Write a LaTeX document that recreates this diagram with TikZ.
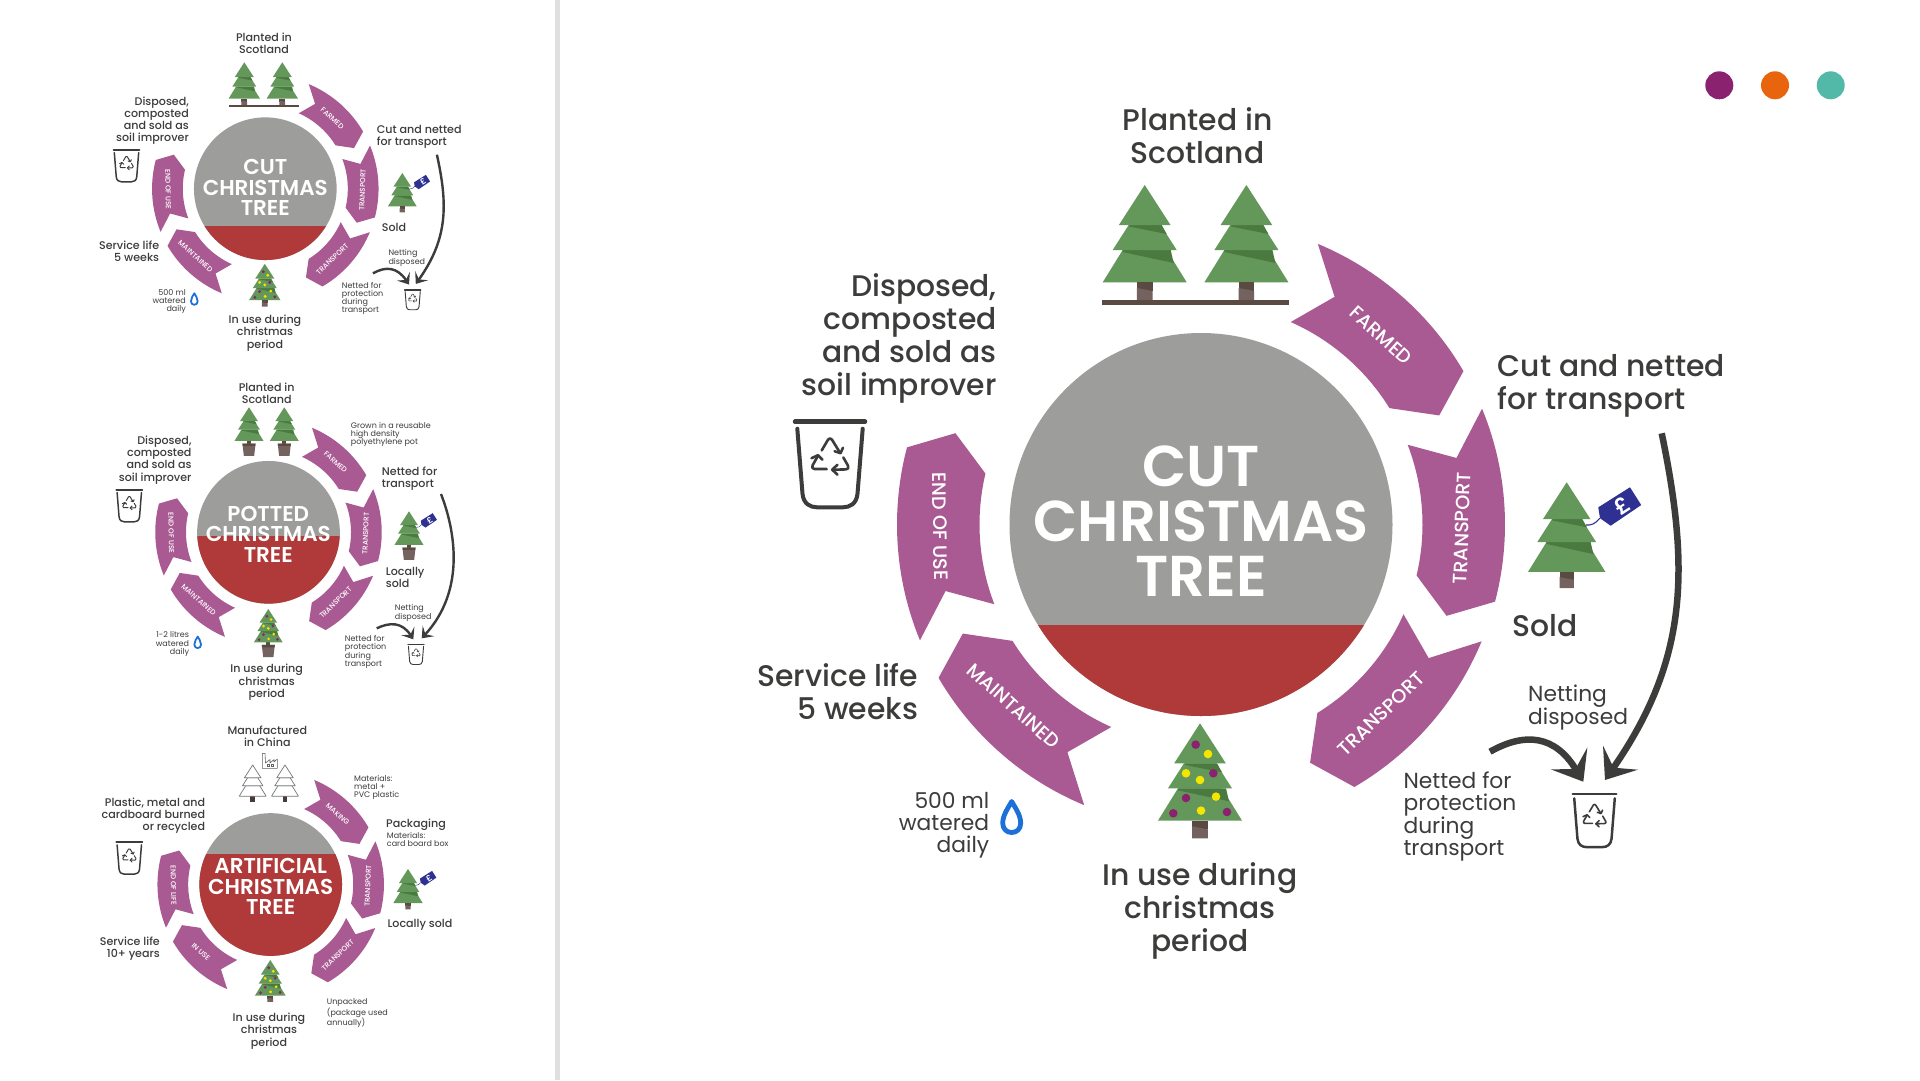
\documentclass[tikz,border=0pt]{standalone}
\usepackage{fontspec}
\usetikzlibrary{arrows.meta}
\setmainfont{Poppins}
\newfontfamily\medfont{Poppins Medium}
\newfontfamily\boldfnt{Poppins SemiBold}
\definecolor{ink}{HTML}{3C3C3B}
\definecolor{plum}{HTML}{A95A93}
\definecolor{discgrey}{HTML}{9D9D9C}
\definecolor{discred}{HTML}{B03A3A}
\definecolor{pinelight}{HTML}{64975A}
\definecolor{pinedark}{HTML}{4A7A3F}
\definecolor{barkdark}{HTML}{5A4A42}
\definecolor{barklight}{HTML}{73625E}
\definecolor{tagblue}{HTML}{2E3192}
\definecolor{dropblue}{HTML}{1D70D8}
\definecolor{ballplum}{HTML}{8B2270}
\definecolor{ballyellow}{HTML}{F5E600}
\definecolor{dotorange}{HTML}{E8650E}
\definecolor{dotteal}{HTML}{52B9A9}
\definecolor{rulegrey}{HTML}{E0E0E0}
\tikzset{
  bigtxt/.style={font=\medfont\fontsize{29.8}{33}\selectfont,text=ink,inner sep=0pt},
  midtxt/.style={font=\fontsize{21.8}{22}\selectfont,text=ink,inner sep=0pt},
  pnltxt/.style={font=\medfont\fontsize{11.1}{12.2}\selectfont,text=ink,inner sep=0pt},
  pnlsmall/.style={font=\fontsize{8}{8.2}\selectfont,text=ink,inner sep=0pt},
  disctxtbig/.style={font=\boldfnt\fontsize{57.6}{55}\selectfont,text=white,inner sep=0pt,align=center},
  disctxt/.style={font=\boldfnt\fontsize{21.5}{20.6}\selectfont,text=white,inner sep=0pt,align=center},
  arrowtxt/.style={font=\medfont\fontsize{19.3}{19}\selectfont,text=white,inner sep=0pt,transform shape},
  flowbig/.style={draw=ink,line width=6.5pt,-{Stealth[length=27pt,width=42pt,inset=12pt]}},
  flowsmall/.style={draw=ink,line width=2.4pt,-{Stealth[length=10pt,width=15.6pt,inset=4.5pt]}},
}
% one wheel segment: name, cx, cy, scale, rotation, label angle, text rotation, label
\newcommand{\wheelarrow}[8]{%
  \begin{scope}[shift={(#2,#3)},scale=#4]
    \pgfmathsetmacro\angA{67.4+#5}\pgfmathsetmacro\angB{30.3+#5}
    \pgfmathsetmacro\angC{24.6+#5}\pgfmathsetmacro\angD{31.7+#5}
    \pgfmathsetmacro\angE{66.1+#5}\pgfmathsetmacro\angF{59.6+#5}
    \fill[plum] plot[domain=\angA:\angB,samples=30] ({304*cos(\x)},{-304*sin(\x)})
      -- ({262*cos(\angC)},{-262*sin(\angC)})
      -- plot[domain=\angD:\angE,samples=30] ({221.5*cos(\x)},{-221.5*sin(\x)})
      -- ({264*cos(\angF)},{-264*sin(\angF)}) -- cycle;
    \node[arrowtxt,rotate=#7] (#1) at ({261*cos(#6)},{-261*sin(#6)}) {#8};
  \end{scope}}
% central disc: cx, cy, scale, chord position (fraction of the radius)
\newcommand{\twotonedisc}[4]{%
  \begin{scope}[shift={(#1,#2)},scale=#3]
    \fill[discgrey] (0,0) circle[radius=191.5];
    \begin{scope}
      \clip (0,0) circle[radius=191.5];
      \fill[discred] (-200,{#4*191.5}) rectangle (200,200);
    \end{scope}
  \end{scope}}
\newcommand{\pinebody}{%
    \fill[pinelight] (-22,65) -- (22,65) -- (42,97.3) -- (-42,97.3) -- cycle;
    \fill[pinedark] (-22,65) -- (26,65) -- (29,78) -- (-22,67) -- cycle;
    \fill[pinelight] (-16,40) -- (16,40) -- (32,65) -- (-32,65) -- cycle;
    \fill[pinedark] (-15.5,40) -- (17,40) -- (22,49) -- (-15.5,41.5) -- cycle;
    \fill[pinelight] (0,0) -- (25.8,40) -- (-25.8,40) -- cycle;}
\newcommand{\pinetrunk}{%
    \fill[barkdark] (-7.8,97.3) rectangle (7.8,106);
    \fill[barklight] (-7.8,103) -- (7.8,106) -- (7.8,115) -- (-7.8,115) -- cycle;}
\newcommand{\pinepot}{%
    \fill[barkdark] (-6,97.3) rectangle (6,107);
    \fill[barklight] (-19,105) -- (19,105) -- (15,141) -- (-15,141) -- cycle;
    \fill[barkdark] (-19,105) -- (19,105) -- (18.2,112) -- (-18.2,112) -- cycle;}
\newcommand{\baubles}{%
    \foreach \bx/\by in {-4.3/21.3,13.3/50,-14/74.7,-26.7/90,27/88.7}
      \fill[ballplum] (\bx,\by) circle[radius=4.3];
    \foreach \bx/\by in {8/30.7,-14/50,0/56.7,16/73.3,1/87.3}
      \fill[ballyellow] (\bx,\by) circle[radius=4.3];}
\newcommand{\pricetag}[1]{%
    \draw[tagblue,line width=#1*1.2pt] (36,39) .. controls (31,45) and (27,47) .. (21,46.4);
    \fill[tagblue] (34.3,27.2) -- (68.8,5.4) -- (81,24.7) -- (47.8,47.2) -- (36.2,39) -- cycle;
    \node[font=\boldfnt\fontsize{24}{24}\selectfont,text=white,rotate=33,inner sep=0pt,transform shape] at (60,26) {£};}
% kinds of tree: x, y of the apex, scale
\newcommand{\plaintree}[3]{\begin{scope}[shift={(#1,#2)},scale=#3]\pinebody\pinetrunk\end{scope}}
\newcommand{\pottedtree}[3]{\begin{scope}[shift={(#1,#2)},scale=#3]\pinepot\pinebody\end{scope}}
\newcommand{\xmastree}[3]{\begin{scope}[shift={(#1,#2)},scale=#3]\pinebody\pinetrunk\baubles\end{scope}}
\newcommand{\xmaspotted}[3]{\begin{scope}[shift={(#1,#2)},scale=#3]\pinepot\pinebody\baubles\end{scope}}
\newcommand{\soldtree}[3]{\begin{scope}[shift={(#1,#2)},scale=#3]\pinebody\pinetrunk\pricetag{#3}\end{scope}}
\newcommand{\soldpotted}[3]{\begin{scope}[shift={(#1,#2)},scale=#3]\pinepot\pinebody\pricetag{#3}\end{scope}}
\newcommand{\outlinetree}[3]{%
  \begin{scope}[shift={(#1,#2)},scale=#3,draw=ink!70,line width=.7pt,line join=round]
    \fill[barkdark!80!black] (-7.8,97.3) rectangle (7.8,115);
    \draw[fill=white] (-22,65) -- (22,65) -- (42,97.3) -- (-42,97.3) -- cycle;
    \draw[fill=white] (-16,40) -- (16,40) -- (32,65) -- (-32,65) -- cycle;
    \draw[fill=white] (0,0) -- (25.8,40) -- (-25.8,40) -- cycle;
  \end{scope}}
% recycling bin: x, y of the middle of the rim, scale
\newcommand{\recyclebin}[3]{%
  \begin{scope}[shift={(#1,#2)},scale=#3,ink,line cap=round,line join=round]
    \draw[line width=#3*4.5pt] (-35,0) -- (35,0);
    \draw[line width=#3*4pt] (-32.7,7) -- (-27.5,72) .. controls (-26.5,82) and (-20,85.6) .. (-13,85.6)
       -- (13,85.6) .. controls (20,85.6) and (26.5,82) .. (27.5,72) -- (32.7,7);
    \draw[line width=#3*2.6pt] (-8.3,28.7) -- (-2,18) .. controls (-0.8,16.2) and (0.8,16.2) .. (2,18) -- (10,31);
    \draw[line width=#3*2.6pt] (13,26) -- (10.5,31.5) -- (4.5,29.5);
    \draw[line width=#3*2.6pt] (13.3,35.7) -- (18,44) .. controls (19,46) and (18.2,47.6) .. (16,47.7) -- (2.7,48);
    \draw[line width=#3*2.6pt] (7.5,43) -- (2.2,48) -- (7.5,53);
    \draw[line width=#3*2.6pt] (-3.3,47.3) -- (-15.5,47.3) .. controls (-17.7,47.3) and (-18.5,45.6) .. (-17.4,43.6) -- (-12,34);
    \draw[line width=#3*2.6pt] (-18.5,36.5) -- (-12,33.5) -- (-7.5,38);
  \end{scope}}
\newcommand{\waterdrop}[3]{%
  \begin{scope}[shift={(#1,#2)},scale=#3]
    \draw[dropblue,line width=#3*4.8pt,line join=round] (0,-15.5) .. controls (-3,-10) and (-9,-2) .. (-9,6)
      .. controls (-9,12) and (-5,15.5) .. (0,15.5) .. controls (5,15.5) and (9,12) .. (9,6)
      .. controls (9,-2) and (3,-10) .. (0,-15.5) -- cycle;
  \end{scope}}
\begin{document}
\begin{tikzpicture}[x=1pt,y=-1pt]
\useasboundingbox (0,0) rectangle (1920,1080);
\fill[white] (0,0) rectangle (1920,1080);
\fill[rulegrey] (555,0) rectangle (560,1080);
\fill[ballplum] (1719.3,85.3) circle[radius=14];
\fill[dotorange] (1775,85.3) circle[radius=14];
\fill[dotteal] (1830.7,85.3) circle[radius=14];

% ===== main wheel =====
\twotonedisc{1201}{524.5}{1}{0.525}
\node[disctxtbig] (mdisc) at (1201,521) {CUT\\CHRISTMAS\\TREE};
\wheelarrow{ma}{1201}{524.5}{1}{0}{46.4}{-42}{FARMED}
\wheelarrow{mb}{1201}{524.5}{1}{-45}{-0.8}{88}{TRANSPORT}
\wheelarrow{mc}{1201}{524.5}{1}{-90}{-46.4}{44}{TRANSPORT}
\wheelarrow{md}{1201}{524.5}{1}{-180}{-135.9}{-42}{MAINTAINED}
\wheelarrow{me}{1201}{524.5}{1}{-225}{180.4}{-89}{END OF USE}
\plaintree{1144.7}{185}{1}
\plaintree{1246.4}{185}{1}
\fill[barkdark] (1102.3,300) rectangle (1289,305);
\soldtree{1566.7}{482.3}{0.92}
\xmastree{1200}{723.3}{1}
\recyclebin{830}{421.7}{1}
\recyclebin{1594.5}{794}{0.62}
\waterdrop{1011.7}{817}{1}
\node[bigtxt,align=center] (mplant) at (1197.6,135.5) {Planted in\\Scotland};
\node[bigtxt,align=right,anchor=east] (mdisp) at (996.8,338.4) {Disposed,\\composted\\and sold as\\soil improver};
\node[bigtxt,align=left,anchor=west] (mcut) at (1497.6,386.1) {Cut and netted\\for transport};
\node[bigtxt,anchor=west] (msold) at (1512,626) {Sold};
\node[midtxt,align=left,anchor=west] (mnetd) at (1528,707.3) {Netting\\disposed};
\node[midtxt,align=left,anchor=west] (mnetp) at (1403.3,816.7) {Netted for\\protection\\during\\transport};
\node[bigtxt,align=center] (muse) at (1200,910.5) {In use during\\christmas\\period};
\node[bigtxt,align=right,anchor=east] (mlife) at (918.4,691.2) {Service life\\5 weeks};
\node[midtxt,align=right,anchor=east] (mwater) at (989.4,825) {500 ml\\watered\\daily};
\coordinate (mbs) at (1661.7,433.3);
\coordinate (mbe) at (1605,780);
\coordinate (mss) at (1490,751.7);
\coordinate (mse) at (1583.3,781.7);
\draw[flowbig] (mbs) .. controls (1690,570) and (1688,660) .. (mbe);
\draw[flowbig] (mss) .. controls (1525,732) and (1555,735) .. (mse);

% ===== panel 1: cut tree =====
\twotonedisc{265.3}{188.7}{0.3725}{0.525}
\node[disctxt] (adisc) at (265.3,187.7) {CUT\\CHRISTMAS\\TREE};
\wheelarrow{aa}{265.3}{188.7}{0.3725}{0}{46.4}{-42}{FARMED}
\wheelarrow{ab}{265.3}{188.7}{0.3725}{-45}{-0.8}{88}{TRANSPORT}
\wheelarrow{ac}{265.3}{188.7}{0.3725}{-90}{-46.4}{44}{TRANSPORT}
\wheelarrow{ad}{265.3}{188.7}{0.3725}{-180}{-135.9}{-42}{MAINTAINED}
\wheelarrow{ae}{265.3}{188.7}{0.3725}{-225}{180.4}{-89}{END OF USE}
\plaintree{244.3}{62.3}{0.3725}
\plaintree{282.3}{62.3}{0.3725}
\fill[barkdark] (228.7,105.2) rectangle (298.7,107);
\soldtree{402.3}{173}{0.343}
\xmastree{264.8}{263.8}{0.3725}
\recyclebin{126.5}{150}{0.3725}
\recyclebin{412.7}{290}{0.231}
\waterdrop{194.3}{299}{0.3725}
\node[pnltxt,align=center] (aplant) at (264,43) {Planted in\\Scotland};
\node[pnltxt,align=right,anchor=east] (adisp) at (189,120.5) {Disposed,\\composted\\and sold as\\soil improver};
\node[pnltxt,align=left,anchor=west] (acut) at (376.7,137) {Cut and netted\\for transport};
\node[pnltxt,anchor=west] (asold) at (381.7,227.3) {Sold};
\node[pnlsmall,align=left,anchor=west] (anetd) at (388.3,257.7) {Netting\\disposed};
\node[pnlsmall,align=left,anchor=west] (anetp) at (341.7,298.3) {Netted for\\protection\\during\\transport};
\node[pnltxt,align=center] (ause) at (265,333) {In use during\\christmas\\period};
\node[pnltxt,align=right,anchor=east] (alife) at (159.3,251.3) {Service life\\5 weeks};
\node[pnlsmall,align=right,anchor=east] (awater) at (186,301.3) {500 ml\\watered\\daily};
\coordinate (abs) at (436.9,154.7);
\coordinate (abe) at (415.8,283.9);
\coordinate (ass) at (373,273.3);
\coordinate (ase) at (409,284.5);
\draw[flowsmall] (abs) .. controls (448.2,205.6) and (447.5,239.2) .. (abe);
\draw[flowsmall] (ass) .. controls (386,266) and (397.2,267.1) .. (ase);

% ===== panel 2: potted tree =====
\twotonedisc{268.5}{532.3}{0.3725}{0.048}
\node[disctxt] (bdisc) at (268.3,534.3) {POTTED\\CHRISTMAS\\TREE};
\wheelarrow{ba}{268.5}{532.3}{0.3725}{0}{46.4}{-42}{FARMED}
\wheelarrow{bb}{268.5}{532.3}{0.3725}{-45}{-0.8}{88}{TRANSPORT}
\wheelarrow{bc}{268.5}{532.3}{0.3725}{-90}{-46.4}{44}{TRANSPORT}
\wheelarrow{bd}{268.5}{532.3}{0.3725}{-180}{-135.9}{-42}{MAINTAINED}
\wheelarrow{be}{268.5}{532.3}{0.3725}{-225}{180.4}{-89}{END OF USE}
\pottedtree{249}{407.3}{0.345}
\pottedtree{284.3}{407.3}{0.345}
\soldpotted{409}{511.3}{0.345}
\xmaspotted{268.3}{609}{0.342}
\recyclebin{129.3}{490}{0.3725}
\recyclebin{416}{644.7}{0.231}
\waterdrop{197.7}{642.3}{0.3725}
\node[pnltxt,align=center] (bplant) at (266.7,393.2) {Planted in\\Scotland};
\node[pnlsmall,align=left,anchor=west] (bgrow) at (350.7,434.3) {Grown in a reusable\\high density\\polyethylene pot};
\node[pnltxt,align=right,anchor=east] (bdisp) at (191.7,460) {Disposed,\\composted\\and sold as\\soil improver};
\node[pnltxt,align=left,anchor=west] (bcut) at (381.7,478.4) {Netted for\\transport};
\node[pnltxt,align=left,anchor=west] (bsold) at (385.7,577.2) {Locally\\sold};
\node[pnlsmall,align=left,anchor=west] (bnetd) at (394.7,612.7) {Netting\\disposed};
\node[pnlsmall,align=left,anchor=west] (bnetp) at (344.7,652) {Netted for\\protection\\during\\transport};
\node[pnltxt,align=center] (buse) at (266.7,682.2) {In use during\\christmas\\period};
\node[pnlsmall,align=right,anchor=east] (bwater) at (189.3,644) {1-2 litres\\watered\\daily};
\coordinate (bbs) at (441,494);
\coordinate (bbe) at (421.7,638.3);
\coordinate (bss) at (376.7,628.3);
\coordinate (bse) at (413.3,639.3);
\draw[flowsmall] (bbs) .. controls (455,530) and (466,590) .. (bbe);
\draw[flowsmall] (bss) .. controls (390,622) and (402,622) .. (bse);

% ===== panel 3: artificial tree =====
\twotonedisc{270.7}{884.5}{0.3725}{-0.427}
\node[disctxt] (cdisc) at (270.7,886.7) {ARTIFICIAL\\CHRISTMAS\\TREE};
\wheelarrow{ca}{270.7}{884.5}{0.3725}{0}{46.4}{-42}{MAKING}
\wheelarrow{cb}{270.7}{884.5}{0.3725}{-45}{-0.8}{88}{TRANSPORT}
\wheelarrow{cc}{270.7}{884.5}{0.3725}{-90}{-46.4}{44}{TRANSPORT}
\wheelarrow{cd}{270.7}{884.5}{0.3725}{-180}{-135.9}{-42}{IN USE}
\wheelarrow{ce}{270.7}{884.5}{0.3725}{-225}{180.4}{-89}{END OF LIFE}
\outlinetree{252.7}{765}{0.32}
\outlinetree{285}{765}{0.32}
\draw[draw=ink!80,line width=.6pt,line join=round] (262.3,768.3) -- (262.3,753.3) -- (265,753.3) -- (265.5,763) -- (270,759.5) -- (270,763) -- (274,759.5) -- (274,762) -- (277.3,759) -- (277.3,768.3) -- cycle;
\draw[draw=ink!80,line width=.4pt] (267,764.5) rectangle (269,766.5) (271.5,764.5) rectangle (273.5,766.5);
\soldtree{408}{869}{0.35}
\xmastree{270.3}{960}{0.365}
\recyclebin{129.3}{842.3}{0.3725}
\node[pnltxt,align=center] (cplant) at (267.3,736.5) {Manufactured\\in China};
\node[pnlsmall,align=left,anchor=west] (cmat) at (354,787.7) {Materials:\\metal +\\PVC plastic};
\node[pnltxt,anchor=west] (cpack) at (386,824.5) {Packaging};
\node[pnlsmall,align=left,anchor=west] (cbox) at (386.7,839.8) {Materials:\\card board box};
\node[pnltxt,align=right,anchor=east] (cdisp) at (205.3,815.7) {Plastic, metal and\\cardboard burned\\or recycled};
\node[pnltxt,anchor=west] (csold) at (387.3,924.5) {Locally sold};
\node[pnltxt,align=right,anchor=east] (clife) at (160,948.4) {Service life\\10+ years};
\node[pnltxt,align=center] (cuse) at (269,1031) {In use during\\christmas\\period};
\node[pnlsmall,align=left,anchor=west] (cunp) at (326.7,1013.3) {Unpacked\\(package used\\annually)};
\end{tikzpicture}
\end{document}
